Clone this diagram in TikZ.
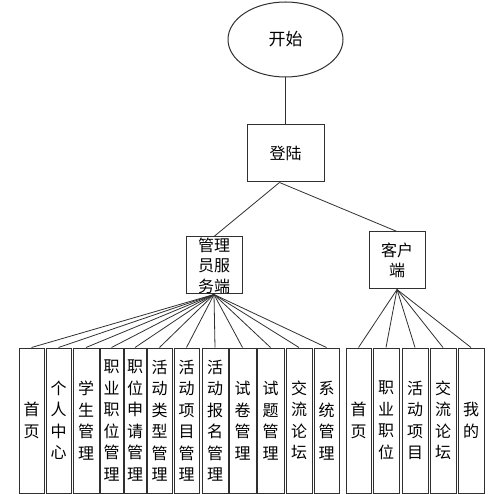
\documentclass[tikz,border=0pt]{standalone}
\usepackage{fontspec}
\setmainfont{Noto Sans CJK SC}
\usetikzlibrary{shapes.geometric}
\definecolor{cline}{HTML}{303030}
\tikzset{
  every picture/.style={line width=0.8pt},
  start/.style={ellipse, draw=cline, line width=1pt, minimum width=115, minimum height=75, inner sep=0pt, font=\fontsize{17pt}{20pt}\selectfont},
  box/.style={draw=cline, line width=1pt, align=center, inner sep=0pt, minimum height=57, font=\fontsize{16pt}{20.5pt}\selectfont},
  leaf/.style={draw=cline, line width=1pt, align=center, inner sep=0pt, minimum height=145, minimum width=#1, font=\fontsize{16pt}{21.5pt}\selectfont},
  leaf/.default=25,
  link/.style={draw=cline, line width=0.8pt},
}
\begin{document}
\begin{tikzpicture}[x=1pt, y=-1pt]
  \useasboundingbox (0,0) rectangle (498,494);

  % top
  \node[start] (begin) at (285.5,39.5) {开始};
  \node[box, minimum width=77] (login) at (285.5,153.5) {登陆};
  \node[box, minimum width=56] (admin) at (214,265.5) {管理\\员服\\务端};
  \node[box, minimum width=56] (client) at (397,260.5) {客户\\端};

  % admin side
  \node[leaf] (a1) at (31.5,420.5) {首\\页};
  \node[leaf] (a2) at (58.5,420.5) {个\\人\\中\\心};
  \node[leaf=26] (a3) at (86,420.5) {学\\生\\管\\理};
  \node[leaf=23] (a4) at (111.5,420.5) {职\\业\\职\\位\\管\\理};
  \node[leaf=22] (a5) at (135,420.5) {职\\位\\申\\请\\管\\理};
  \node[leaf] (a6) at (159.5,420.5) {活\\动\\类\\型\\管\\理};
  \node[leaf] (a7) at (186.5,420.5) {活\\动\\项\\目\\管\\理};
  \node[leaf=26] (a8) at (215,420.5) {活\\动\\报\\名\\管\\理};
  \node[leaf=27] (a9) at (242.5,420.5) {试\\卷\\管\\理};
  \node[leaf=27] (a10) at (270.5,420.5) {试\\题\\管\\理};
  \node[leaf=26] (a11) at (299,420.5) {交\\流\\论\\坛};
  \node[leaf] (a12) at (326.5,420.5) {系\\统\\管\\理};

  % client side
  \node[leaf] (c1) at (358.5,420.5) {首\\页};
  \node[leaf=26] (c2) at (386,420.5) {职\\业\\职\\位};
  \node[leaf=26] (c3) at (415,420.5) {活\\动\\项\\目};
  \node[leaf=26] (c4) at (443,420.5) {交\\流\\论\\坛};
  \node[leaf=26] (c5) at (471,420.5) {我\\的};

  % links
  \draw[link] (begin.south) -- (login.north);
  \draw[link] ([xshift=-6pt]login.south) -- (admin.north);
  \draw[link] ([xshift=-6pt]login.south) -- (client.north);
  \draw[link] (admin.south) -- (a1.north);
  \draw[link] (admin.south) -- (a2.north);
  \draw[link] (admin.south) -- (a3.north);
  \draw[link] (admin.south) -- (a4.north);
  \draw[link] (admin.south) -- (a5.north);
  \draw[link] (admin.south) -- (a6.north);
  \draw[link] (admin.south) -- (a7.north);
  \draw[link] (admin.south) -- (a8.north);
  \draw[link] (admin.south) -- (a9.north);
  \draw[link] (admin.south) -- (a10.north);
  \draw[link] (admin.south) -- (a11.north);
  \draw[link] (admin.south) -- (a12.north);
  \draw[link] (client.south) -- (c1.north);
  \draw[link] (client.south) -- (c2.north);
  \draw[link] (client.south) -- (c3.north);
  \draw[link] (client.south) -- (c4.north);
  \draw[link] (client.south) -- (c5.north);
\end{tikzpicture}
\end{document}
